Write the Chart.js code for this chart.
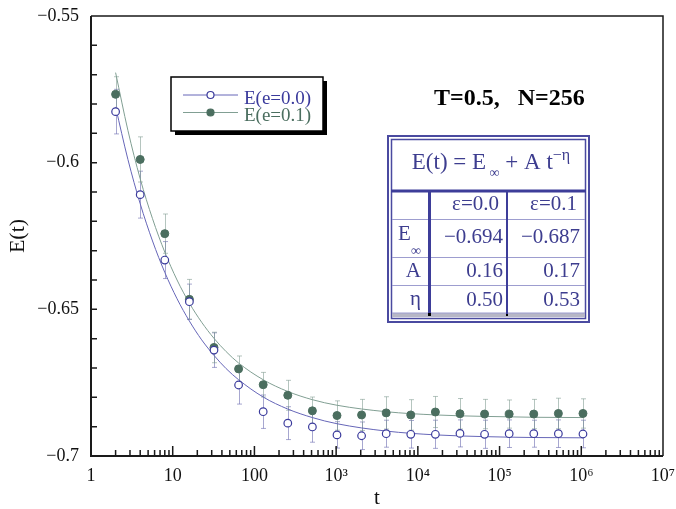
<!DOCTYPE html>
<html>
<head>
<meta charset="utf-8">
<script src="https://cdn.jsdelivr.net/npm/chart.js@4.4.1/dist/chart.umd.min.js"></script>
<style>
  html, body { margin: 0; padding: 0; background: #fff; }
</style>
</head>
<body>
<canvas id="energyChart" width="676" height="509"></canvas>
<script>
// measured times, t = 2^1 ... 2^20
const times = [2, 4, 8, 16, 32, 64, 128, 256, 512, 1024, 2048, 4096, 8192, 16384, 32768, 65536, 131072, 262144, 524288, 1048576];

// E(t) for e=0.0 (open circles) and its error bars
const energy0 = [-0.5826, -0.6109, -0.6332, -0.6474, -0.6639, -0.6758, -0.6849, -0.6888, -0.6901, -0.6928,
                 -0.6931, -0.6924, -0.6926, -0.6926, -0.6923, -0.6926, -0.6924, -0.6924, -0.6924, -0.6925];
const error0 = [0.0076, 0.0080, 0.0063, 0.0060, 0.0059, 0.0065, 0.0057, 0.0056, 0.0052, 0.0045,
                0.0047, 0.0046, 0.0047, 0.0048, 0.0046, 0.0048, 0.0047, 0.0046, 0.0047, 0.0047];

// E(t) for e=0.1 (filled circles) and its error bars
const energy1 = [-0.5767, -0.5989, -0.6242, -0.6466, -0.6630, -0.6703, -0.6757, -0.6793, -0.6846, -0.6862,
                 -0.6860, -0.6853, -0.6860, -0.6850, -0.6856, -0.6857, -0.6857, -0.6857, -0.6855, -0.6855];
const error1 = [0.0060, 0.0077, 0.0067, 0.0068, 0.0052, 0.0044, 0.0042, 0.0051, 0.0047, 0.0050,
                0.0053, 0.0055, 0.0052, 0.0053, 0.0052, 0.0050, 0.0048, 0.0050, 0.0052, 0.0050];

// fitted curves
const fitTimes = [2, 2.83, 4, 5.66, 8, 11.3, 16, 22.6, 32, 45, 64, 128, 256, 512, 1024, 4096, 16384, 65536, 262144, 1048576];
const fit0 = [-0.5810, -0.5989, -0.6140, -0.6267, -0.6374, -0.6464, -0.6540, -0.6604, -0.6657, -0.6702,
              -0.6740, -0.6799, -0.6840, -0.6869, -0.6890, -0.6915, -0.6928, -0.6934, -0.6937, -0.6938];
const fit1 = [-0.5693, -0.5890, -0.6055, -0.6191, -0.6305, -0.6400, -0.6479, -0.6544, -0.6599, -0.6644,
              -0.6683, -0.6740, -0.6780, -0.6808, -0.6827, -0.6849, -0.6860, -0.6865, -0.6868, -0.6869];

// axis labels
const xTickLabels = ['1', '10', '100', '10³', '10⁴', '10⁵', '10⁶', '10⁷'];
const seriesLabels = ['E(e=0.0)', 'E(e=0.1)'];

// fit table
const tableCols = ['ε=0.0', 'ε=0.1'];
const tableRows = ['E', 'A', 'η'];
const tableValues = [['−0.694', '−0.687'], ['0.16', '0.17'], ['0.50', '0.53']];

const SERIF = '"Liberation Serif", "Times New Roman", serif';
const blue = '#3a3a9c';
const blueLine = '#6666b8';
const blueErr = 'rgba(95, 95, 170, 0.55)';
const green = '#4b6e5f';
const greenLine = '#819f93';
const greenErr = 'rgba(120, 150, 138, 0.55)';
const tableInk = '#3d3d8f';

function pts(xs, ys) {
    return xs.map((x, i) => ({ x: x, y: ys[i] }));
}

function drawErrors(ctx, xs, ys, vals, errs, color) {
    ctx.save();
    ctx.strokeStyle = color;
    ctx.lineWidth = 1;
    times.forEach((t, i) => {
        const px = Math.round(xs.getPixelForValue(t)) + 0.5;
        const top = ys.getPixelForValue(vals[i] + errs[i]);
        const bot = ys.getPixelForValue(vals[i] - errs[i]);
        ctx.beginPath();
        ctx.moveTo(px, top); ctx.lineTo(px, bot);
        ctx.moveTo(px - 2.5, top); ctx.lineTo(px + 2.5, top);
        ctx.moveTo(px - 2.5, bot); ctx.lineTo(px + 2.5, bot);
        ctx.stroke();
    });
    ctx.restore();
}

function drawFrame(chart) {
    const ctx = chart.ctx, a = chart.chartArea;
    const xs = chart.scales.x, ys = chart.scales.y;
    ctx.save();
    ctx.strokeStyle = '#1a1a1a';
    // top + right
    ctx.lineWidth = 1.5;
    ctx.beginPath();
    ctx.moveTo(a.left, a.top); ctx.lineTo(a.right, a.top); ctx.lineTo(a.right, a.bottom);
    ctx.stroke();
    // left + bottom
    ctx.lineWidth = 2;
    ctx.beginPath();
    ctx.moveTo(a.left, a.top); ctx.lineTo(a.left, a.bottom + 1);
    ctx.moveTo(a.left - 1, a.bottom); ctx.lineTo(a.right, a.bottom);
    ctx.stroke();

    // y ticks, every 0.01, pointing inward
    ctx.lineWidth = 1.5;
    ctx.beginPath();
    for (let k = 1; k < 15; k++) {
        const y = ys.getPixelForValue(-0.7 + k * 0.01);
        ctx.moveTo(a.left, y); ctx.lineTo(a.left + 6, y);
    }
    // x ticks, decades long, 2..9 short
    for (let d = 0; d < 7; d++) {
        for (let m = 1; m <= 9; m++) {
            if (d === 0 && m === 1) continue;
            const x = xs.getPixelForValue(m * Math.pow(10, d));
            const len = m === 1 ? 10 : 6;
            ctx.moveTo(x, a.bottom); ctx.lineTo(x, a.bottom - len);
        }
    }
    ctx.stroke();
    ctx.restore();
}

function drawLegend(ctx) {
    ctx.save();
    ctx.fillStyle = '#000';
    ctx.fillRect(175, 81, 152, 54);
    ctx.fillStyle = '#fff';
    ctx.fillRect(171, 77, 152, 54);
    ctx.strokeStyle = '#000';
    ctx.lineWidth = 1.5;
    ctx.strokeRect(171, 77, 152, 54);

    const rows = [
        { y: 95, line: blueLine, fill: '#fff', stroke: blue, text: blue, label: seriesLabels[0] },
        { y: 112.5, line: greenLine, fill: green, stroke: green, text: green, label: seriesLabels[1] }
    ];
    rows.forEach(r => {
        ctx.strokeStyle = r.line;
        ctx.lineWidth = 1;
        ctx.beginPath();
        ctx.moveTo(183, r.y); ctx.lineTo(238, r.y);
        ctx.stroke();
        ctx.beginPath();
        ctx.arc(210.5, r.y, 3.5, 0, Math.PI * 2);
        ctx.fillStyle = r.fill;
        ctx.fill();
        ctx.strokeStyle = r.stroke;
        ctx.lineWidth = 1.2;
        ctx.stroke();
        ctx.fillStyle = r.text;
        ctx.font = '19px ' + SERIF;
        ctx.textBaseline = 'alphabetic';
        ctx.textAlign = 'left';
        ctx.fillText(r.label, 244, r.y + 8.5);
    });
    ctx.restore();
}

function drawTable(ctx) {
    ctx.save();
    ctx.fillStyle = '#fff';
    ctx.fillRect(387, 135, 203, 188);
    // double border
    ctx.strokeStyle = '#4a4aa0';
    ctx.lineWidth = 2;
    ctx.strokeRect(388, 136, 201, 186);
    ctx.lineWidth = 1.5;
    ctx.strokeRect(391.5, 139.5, 194, 179);
    // gray band at the bottom
    ctx.fillStyle = '#b7b7c6';
    ctx.fillRect(392, 313, 193, 4);

    // thin row lines
    ctx.strokeStyle = '#9d9dcf';
    ctx.lineWidth = 1;
    ctx.beginPath();
    [219.5, 257.5, 285.5, 313].forEach(y => { ctx.moveTo(392, y); ctx.lineTo(585, y); });
    ctx.stroke();

    // header rule and column rules
    ctx.strokeStyle = '#3d3d99';
    ctx.lineWidth = 3;
    ctx.beginPath();
    ctx.moveTo(391, 191); ctx.lineTo(586, 191);
    ctx.moveTo(429.5, 191); ctx.lineTo(429.5, 316);
    ctx.stroke();
    ctx.lineWidth = 2;
    ctx.beginPath();
    ctx.moveTo(507, 191); ctx.lineTo(507, 316);
    ctx.stroke();
    ctx.fillStyle = '#000';
    ctx.fillRect(428, 313, 3, 3);
    ctx.fillRect(506, 314, 2, 2);

    // title E(t) = E∞ + A t^-η
    ctx.fillStyle = tableInk;
    ctx.textBaseline = 'alphabetic';
    ctx.textAlign = 'left';
    const big = '21px ' + SERIF, title = '23px ' + SERIF, small = '14px ' + SERIF;
    const parts = [
        { s: 'E(t) = E', f: title, dy: 0 },
        { s: ' ∞', f: small, dy: 8 },
        { s: ' + A t', f: title, dy: 0 },
        { s: '−η', f: '16px ' + SERIF, dy: -9 }
    ];
    let w = 0;
    parts.forEach(p => { ctx.font = p.f; w += ctx.measureText(p.s).width; });
    let x = 491 - w / 2;
    parts.forEach(p => {
        ctx.font = p.f;
        ctx.fillText(p.s, x, 169 + p.dy);
        x += ctx.measureText(p.s).width;
    });

    // column heads and values
    ctx.font = big;
    ctx.textAlign = 'right';
    ctx.fillText(tableCols[0], 499, 210);
    ctx.fillText(tableCols[1], 577, 210);
    const baselines = [243, 276.5, 306];
    tableValues.forEach((row, i) => {
        ctx.fillText(row[0], 503, baselines[i]);
        ctx.fillText(row[1], 580, baselines[i]);
    });
    // row heads
    ctx.textAlign = 'left';
    ctx.fillText(tableRows[0], 398, 240);
    ctx.font = small;
    ctx.fillText('∞', 411, 255);
    ctx.font = big;
    ctx.textAlign = 'right';
    ctx.fillText(tableRows[1], 421, 276.5);
    ctx.fillText(tableRows[2], 421, 305);
    ctx.restore();
}

const decorPlugin = {
    id: 'decor',
    beforeDatasetsDraw(chart) {
        const xs = chart.scales.x, ys = chart.scales.y;
        drawErrors(chart.ctx, xs, ys, energy0, error0, blueErr);
        drawErrors(chart.ctx, xs, ys, energy1, error1, greenErr);
    },
    afterDraw(chart) {
        const ctx = chart.ctx;
        drawFrame(chart);
        drawLegend(ctx);
        ctx.save();
        ctx.fillStyle = '#000';
        ctx.font = 'bold 24px ' + SERIF;
        ctx.textAlign = 'left';
        ctx.textBaseline = 'alphabetic';
        ctx.fillText('T=0.5,   N=256', 434, 105);
        ctx.restore();
        drawTable(ctx);
    }
};

new Chart(document.getElementById('energyChart'), {
    type: 'scatter',
    data: {
        datasets: [
            {
                label: seriesLabels[0],
                data: pts(times, energy0),
                pointRadius: 3.8,
                pointBackgroundColor: '#fff',
                pointBorderColor: blue,
                pointBorderWidth: 1.2,
                showLine: false
            },
            {
                label: seriesLabels[1],
                data: pts(times, energy1),
                pointRadius: 4,
                pointBackgroundColor: green,
                pointBorderColor: green,
                pointBorderWidth: 1,
                showLine: false
            },
            {
                label: 'fit e=0.0',
                data: pts(fitTimes, fit0),
                showLine: true,
                borderColor: blueLine,
                borderWidth: 1,
                pointRadius: 0,
                cubicInterpolationMode: 'monotone'
            },
            {
                label: 'fit e=0.1',
                data: pts(fitTimes, fit1),
                showLine: true,
                borderColor: greenLine,
                borderWidth: 1,
                pointRadius: 0,
                cubicInterpolationMode: 'monotone'
            }
        ]
    },
    options: {
        responsive: false,
        animation: false,
        devicePixelRatio: 1,
        layout: { padding: { top: 16, right: 13, left: 0, bottom: 0 } },
        plugins: {
            legend: { display: false },
            tooltip: { enabled: false }
        },
        scales: {
            x: {
                type: 'logarithmic',
                min: 1,
                max: 1e7,
                grid: { display: false, drawTicks: false },
                border: { display: false },
                ticks: {
                    autoSkip: false,
                    maxRotation: 0,
                    padding: 9,
                    color: '#111',
                    font: { family: SERIF, size: 18 },
                    callback: function (v) {
                        const k = Math.round(Math.log10(v));
                        return Math.abs(Math.log10(v) - k) < 1e-9 ? xTickLabels[k] : '';
                    }
                },
                title: { display: true, text: 't', color: '#111', font: { family: SERIF, size: 21, lineHeight: 1 }, padding: 0 },
                afterFit: function (s) {
                    s.height = 53;
                    s.paddingLeft = 0;
                    s.paddingRight = 0;
                }
            },
            y: {
                min: -0.7,
                max: -0.55,
                grid: { display: false, drawTicks: false },
                border: { display: false },
                ticks: {
                    stepSize: 0.01,
                    autoSkip: false,
                    padding: 12,
                    color: '#111',
                    font: { family: SERIF, size: 18 },
                    callback: function (v) {
                        const h = Math.round(v * 100);
                        if (h % 5 !== 0) return '';
                        return '−' + (Math.abs(h) / 100).toString();
                    }
                },
                title: { display: true, text: 'E(t)', color: '#111', font: { family: SERIF, size: 22, lineHeight: 1 }, padding: { top: 7 } },
                afterFit: function (s) {
                    s.width = 91;
                    s.paddingTop = 0;
                    s.paddingBottom = 0;
                }
            }
        }
    },
    plugins: [decorPlugin]
});
</script>
</body>
</html>
